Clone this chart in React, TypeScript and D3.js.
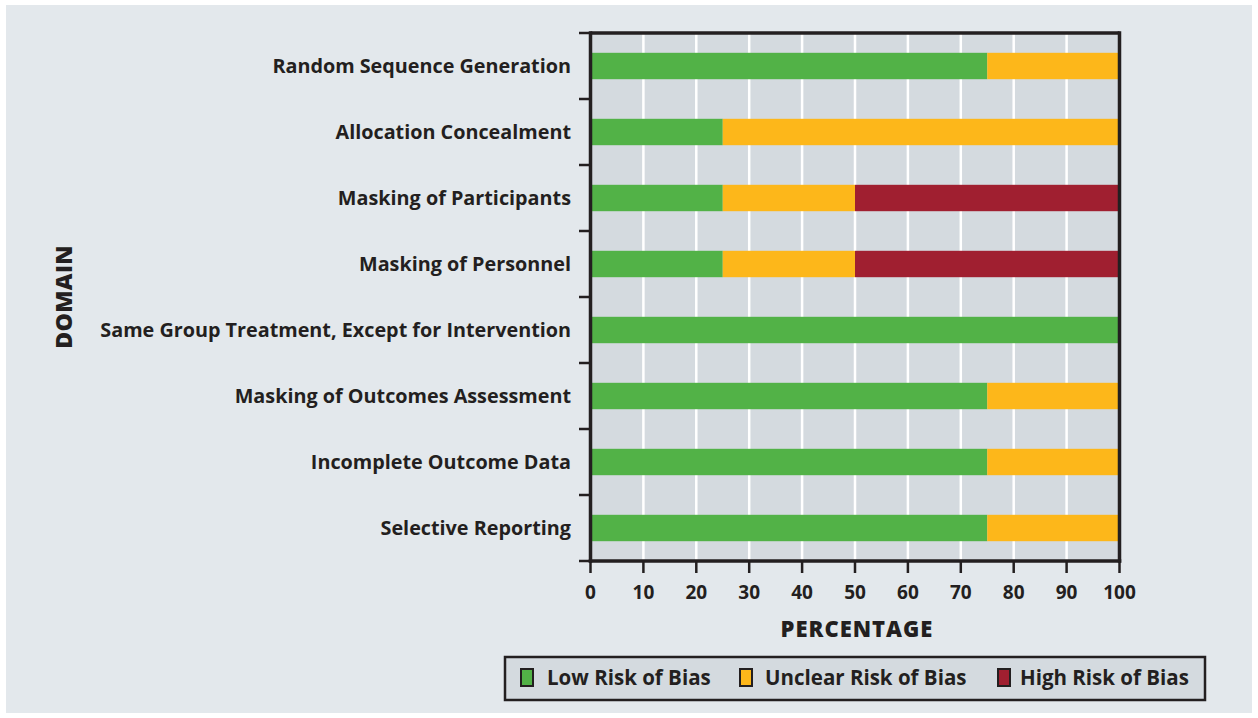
import React from "react";
import * as d3 from "d3";

const categories = [
  "Random Sequence Generation",
  "Allocation Concealment",
  "Masking of Participants",
  "Masking of Personnel",
  "Same Group Treatment, Except for Intervention",
  "Masking of Outcomes Assessment",
  "Incomplete Outcome Data",
  "Selective Reporting",
];
const lowRisk = [75, 25, 25, 25, 100, 75, 75, 75];
const unclearRisk = [25, 75, 25, 25, 0, 25, 25, 25];
const highRisk = [0, 0, 50, 50, 0, 0, 0, 0];
const seriesNames = ["Low Risk of Bias", "Unclear Risk of Bias", "High Risk of Bias"];
const seriesColors = ["#52b247", "#fdb71a", "#a01f30"];
const xTicks = [0, 10, 20, 30, 40, 50, 60, 70, 80, 90, 100];

const W = 1258;
const H = 718;
const left = 590.5;
const right = 1119.5;
const top = 33;
const bottom = 561;
const ink = "#231f20";
const FONT = "'Open Sans', Lato, sans-serif";

export default function App() {
  const x = d3.scaleLinear().domain([0, 100]).range([left, right]);
  const y = d3
    .scaleBand<string>()
    .domain(categories)
    .range([top, bottom])
    .paddingInner(0.6)
    .paddingOuter(0.3);

  const rows = categories.map((c, i) => ({ c, vals: [lowRisk[i], unclearRisk[i], highRisk[i]] }));
  const stacked = rows.map((r) => {
    let acc = 0;
    return r.vals.map((v, k) => {
      const s = { x0: acc, x1: acc + v, k };
      acc += v;
      return s;
    });
  });
  const step = y.step();
  const boundaries = d3.range(categories.length + 1).map((i) => top + i * step);

  const legendItems = [
    { name: seriesNames[0], color: seriesColors[0], sx: 521, tx: 547 },
    { name: seriesNames[1], color: seriesColors[1], sx: 740, tx: 765 },
    { name: seriesNames[2], color: seriesColors[2], sx: 998, tx: 1020 },
  ];

  return (
    <svg
      width={W}
      height={H}
      style={{ position: "absolute", left: 0, top: 0, fontFamily: FONT }}
    >
      <rect x={0} y={0} width={W} height={H} fill="#ffffff" />
      <rect x={6} y={5} width={1246} height={708} fill="#e3e8ec" />
      <rect x={left} y={top} width={right - left} height={bottom - top} fill="#d4dadf" />
      {xTicks.slice(1, -1).map((t) => (
        <line key={t} x1={x(t)} x2={x(t)} y1={top} y2={bottom} stroke="#ffffff" strokeWidth={2.5} />
      ))}
      {stacked.map((segs, i) =>
        segs
          .filter((s) => s.x1 > s.x0)
          .map((s) => (
            <rect
              key={`${i}-${s.k}`}
              x={x(s.x0)}
              y={y(categories[i])!}
              width={x(s.x1) - x(s.x0)}
              height={y.bandwidth()}
              fill={seriesColors[s.k]}
            />
          ))
      )}
      <line x1={left} x2={right} y1={top} y2={top} stroke={ink} strokeWidth={3.5} />
      <line x1={right} x2={right} y1={top - 1.75} y2={bottom + 1.75} stroke={ink} strokeWidth={3.5} />
      <line x1={left} x2={left} y1={top - 1.75} y2={bottom + 1.75} stroke={ink} strokeWidth={3.5} />
      <line x1={left - 1.75} x2={right + 1.75} y1={bottom} y2={bottom} stroke={ink} strokeWidth={3.5} />
      {boundaries.map((b, i) => (
        <line key={i} x1={579} x2={left} y1={b} y2={b} stroke={ink} strokeWidth={2.5} />
      ))}
      {xTicks.map((t) => (
        <g key={t}>
          <line x1={x(t)} x2={x(t)} y1={bottom} y2={573} stroke={ink} strokeWidth={2.5} />
          <text x={x(t)} y={598.5} textAnchor="middle" fontSize={19} fontWeight={700} fill={ink}>
            {t}
          </text>
        </g>
      ))}
      {categories.map((c) => (
        <text
          key={c}
          x={571}
          y={y(c)! + y.bandwidth() / 2}
          dy="0.33em"
          textAnchor="end"
          fontSize={19.8}
          fontWeight={700}
          fill={ink}
        >
          {c}
        </text>
      ))}
      <text
        x={857}
        y={637}
        textAnchor="middle"
        fontSize={22}
        fontWeight={800}
        letterSpacing={1}
        fill={ink}
      >
        PERCENTAGE
      </text>
      <text
        transform={`translate(72, ${(top + bottom) / 2}) rotate(-90)`}
        textAnchor="middle"
        fontSize={23}
        fontWeight={800}
        letterSpacing={0.4}
        fill={ink}
      >
        DOMAIN
      </text>
      <rect x={505} y={657} width={700} height={43} fill="#d4dadf" stroke={ink} strokeWidth={2.5} />
      {legendItems.map((l) => (
        <g key={l.name}>
          <rect x={l.sx} y={669} width={12} height={17} fill={l.color} stroke={ink} strokeWidth={2} />
          <text x={l.tx} y={678} dy="0.35em" fontSize={20.5} fontWeight={700} fill={ink}>
            {l.name}
          </text>
        </g>
      ))}
    </svg>
  );
}
